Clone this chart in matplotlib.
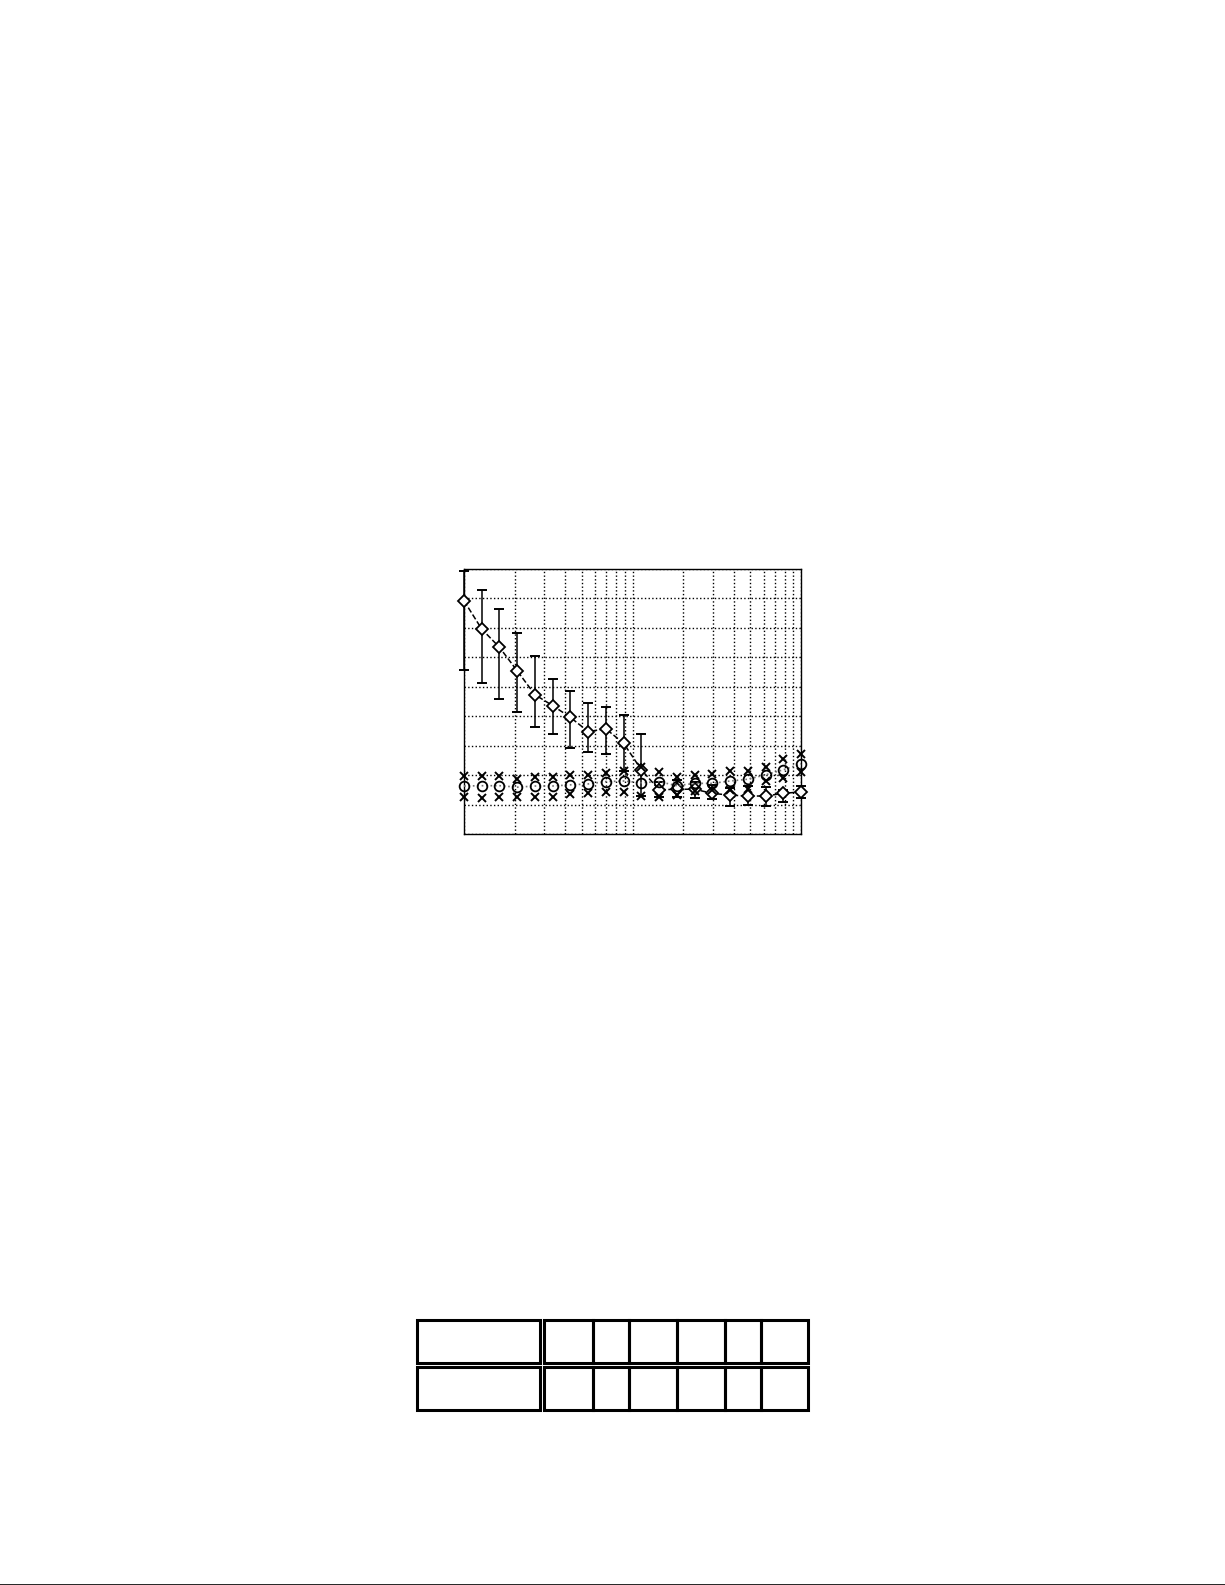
import numpy as np
import matplotlib
matplotlib.use("Agg")
import matplotlib.pyplot as plt
from matplotlib.patches import Rectangle
from matplotlib.lines import Line2D

# x positions (log axis, 1 .. 100)
x_vals = [1.0, 1.274, 1.624, 2.069, 2.637, 3.360, 4.281, 5.456, 6.952, 8.859,
          11.29, 14.38, 18.33, 23.36, 29.76, 37.93, 48.33, 61.58, 78.48, 100.0]

# diamond series with error bars
diam_mean = [7.92, 6.96, 6.34, 5.54, 4.73, 4.36, 3.96, 3.48, 3.57, 3.08,
             2.18, 1.50, 1.52, 1.52, 1.38, 1.32, 1.29, 1.29, 1.38, 1.43]
diam_upper = [8.92, 8.29, 7.64, 6.82, 6.06, 5.26, 4.84, 4.44, 4.33, 4.04,
              3.39, 1.75, 1.84, 1.77, 1.67, 1.55, 1.63, 1.61, 1.50, 1.63]
diam_lower = [5.58, 5.12, 4.58, 4.15, 3.65, 3.40, 2.91, 2.80, 2.72, 2.14,
              1.29, 1.25, 1.26, 1.21, 1.18, 0.95, 0.99, 0.95, 1.10, 1.22]

# circle series with min / max crosses
circ_mean = [1.63, 1.64, 1.64, 1.59, 1.63, 1.63, 1.67, 1.70, 1.78, 1.80,
             1.74, 1.78, 1.64, 1.72, 1.72, 1.80, 1.86, 2.01, 2.18, 2.38]
circ_max = [1.97, 1.97, 1.97, 1.88, 1.95, 1.95, 2.00, 2.00, 2.06, 2.15,
            2.29, 2.12, 1.93, 2.01, 2.04, 2.15, 2.15, 2.27, 2.54, 2.72]
circ_min = [1.27, 1.21, 1.27, 1.25, 1.25, 1.25, 1.35, 1.38, 1.44, 1.44,
            1.29, 1.25, 1.33, 1.46, 1.50, 1.50, 1.52, 1.81, 1.89, 2.12]

# empty table: column widths and row heights (pixels)
table_col_w = [123, 49, 36, 48, 48, 36, 47]
table_row_h = [43, 43]

W, H = 1225, 1585
fig = plt.figure(figsize=(W / 100, H / 100), dpi=100)

# ---- chart ----
ax = fig.add_axes([464 / W, 1 - 834 / H, (801 - 464) / W, (834 - 569) / H])
ax.set_xscale("log")
ax.set_xlim(1, 100)
ax.set_ylim(0, 9)
ax.set_yticks(np.arange(0, 10, 1))
ax.set_xticks([1, 10, 100])
ax.set_xticks([v * d for d in (1, 10) for v in range(2, 10)], minor=True)
ax.grid(True, which="both", axis="x", color="black", linestyle=":", linewidth=1.0)
ax.grid(True, which="major", axis="y", color="black", linestyle=":", linewidth=1.0)
ax.tick_params(which="both", length=0, labelleft=False, labelbottom=False)
for s in ax.spines.values():
    s.set_linewidth(1.0)

d = np.array(diam_mean)
yerr = [d - np.array(diam_lower), np.array(diam_upper) - d]
ax.errorbar(x_vals, diam_mean, yerr=yerr, fmt="none", ecolor="black",
            elinewidth=1.1, capsize=3.5, capthick=1.4, clip_on=False, zorder=3)
ax.plot(x_vals, diam_mean, color="black", linestyle="--", linewidth=1.1,
        marker="D", markersize=6, markerfacecolor="white", markeredgecolor="black",
        markeredgewidth=1.3, clip_on=False, zorder=4)

ax.plot(x_vals, circ_mean, color="0.45", linestyle=":", linewidth=1.2,
        marker="o", markersize=7, markerfacecolor="none", markeredgecolor="black",
        markeredgewidth=1.3, clip_on=False, zorder=4)
ax.plot(x_vals, circ_max, linestyle="none", marker="x", markersize=5.5,
        color="black", markeredgewidth=1.4, clip_on=False, zorder=4)
ax.plot(x_vals, circ_min, linestyle="none", marker="x", markersize=5.5,
        color="black", markeredgewidth=1.4, clip_on=False, zorder=4)

# ---- empty table ----
tax = fig.add_axes([0, 0, 1, 1])
tax.set_xlim(0, W)
tax.set_ylim(H, 0)
tax.axis("off")
lw = 2.2
x0, y0 = 417, 1320
y = y0
for h in table_row_h:
    x = x0
    for j, w in enumerate(table_col_w):
        tax.add_patch(Rectangle((x, y), w, h, fill=False, edgecolor="black", linewidth=lw))
        x += w + (4 if j == 0 else 0)
    y += h + 4

# bottom page rule
fig.add_artist(Line2D([0, 1], [0.5 / H, 0.5 / H], color="black", linewidth=1.2))

fig.savefig("out.png", dpi=100)
